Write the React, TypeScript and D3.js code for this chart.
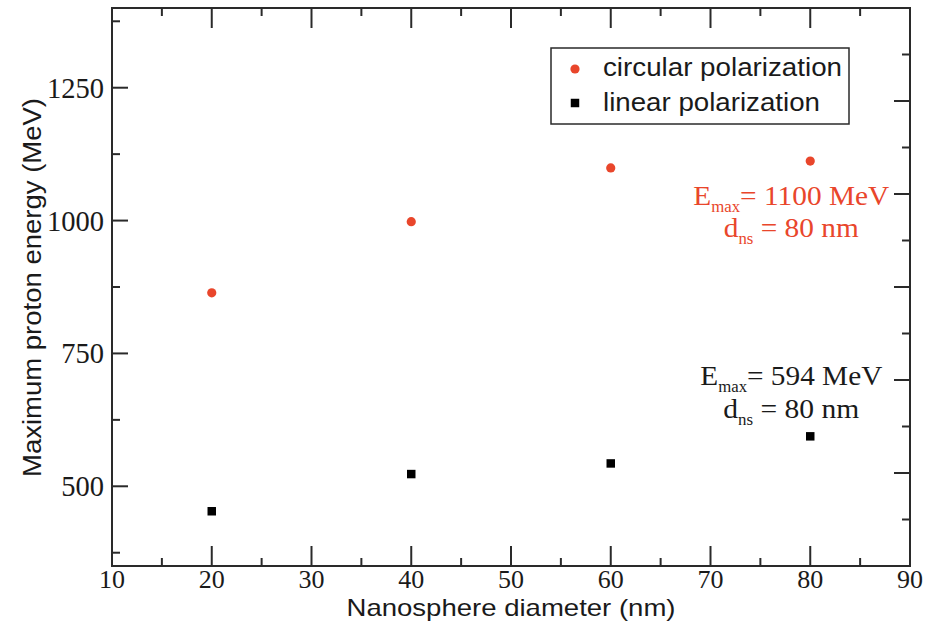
import React from "react";
import * as d3 from "d3";

const diameters = [20, 40, 60, 80];
const circularEnergy = [864, 998, 1099, 1112];
const linearEnergy = [453, 523, 543, 594];
const xMajorTicks = [10, 20, 30, 40, 50, 60, 70, 80, 90];
const xMinorTicks = [15, 25, 35, 45, 55, 65, 75, 85];
const yMajorTicks = [500, 750, 1000, 1250];
const yMinorTicks = [375, 625, 875, 1125, 1375];
const rightMajorTicks = [1, 2, 3, 4, 5];
const rightMinorTicks = [0.5, 1.5, 2.5, 3.5, 4.5, 5.5];
const legendLabels = ["circular polarization", "linear polarization"];

const W = 929, H = 632;
const L = 112, R = 910, T = 8, B = 566;
const RED = "#e9462b";
const INK = "#1a1a1a";
const SERIF = "'Liberation Serif', 'Times New Roman', serif";
const SANS = "'Liberation Sans', Arial, sans-serif";

export default function App() {
  const x = d3.scaleLinear().domain([10, 90]).range([L, R]);
  const y = d3.scaleLinear().domain([350, 1400]).range([B, T]);
  const yr = d3.scaleLinear().domain([0, 6]).range([B, T]);
  const sym = d3.symbol().type(d3.symbolSquare).size(72)();
  const sw = 2;

  const annots = [
    { color: RED, cx: 78.1, y1: 1030, y2: 970, val: "1100", w1: 196, w2: 135 },
    { color: INK, cx: 78.1, y1: 691, y2: 629, val: "594", w1: 182, w2: 136 },
  ];

  return (
    <svg width={W} height={H} style={{ position: "absolute", left: 0, top: 0, background: "#fff" }}>
      <rect x={0} y={0} width={W} height={H} fill="#fff" />
      <rect x={L} y={T} width={R - L} height={B - T} fill="none" stroke="#2a2a2a" strokeWidth={sw} />
      {xMajorTicks.map((t) => (
        <g key={"xm" + t} stroke="#2a2a2a" strokeWidth={sw}>
          <line x1={x(t)} x2={x(t)} y1={B} y2={B - 20} />
          <line x1={x(t)} x2={x(t)} y1={T} y2={T + 20} />
        </g>
      ))}
      {xMinorTicks.map((t) => (
        <g key={"xn" + t} stroke="#2a2a2a" strokeWidth={sw}>
          <line x1={x(t)} x2={x(t)} y1={B} y2={B - 8} />
          <line x1={x(t)} x2={x(t)} y1={T} y2={T + 8} />
        </g>
      ))}
      {yMajorTicks.map((t) => (
        <line key={"ym" + t} x1={L} x2={L + 16} y1={y(t)} y2={y(t)} stroke="#2a2a2a" strokeWidth={sw} />
      ))}
      {yMinorTicks.map((t) => (
        <line key={"yn" + t} x1={L} x2={L + 8} y1={y(t)} y2={y(t)} stroke="#2a2a2a" strokeWidth={sw} />
      ))}
      {rightMajorTicks.map((t) => (
        <line key={"rm" + t} x1={R} x2={R - 16} y1={yr(t)} y2={yr(t)} stroke="#2a2a2a" strokeWidth={sw} />
      ))}
      {rightMinorTicks.map((t) => (
        <line key={"rn" + t} x1={R} x2={R - 8} y1={yr(t)} y2={yr(t)} stroke="#2a2a2a" strokeWidth={sw} />
      ))}
      {xMajorTicks.map((t) => (
        <text key={"xl" + t} x={x(t)} y={588} textAnchor="middle" fontFamily={SERIF} fontSize={26} fill={INK}>
          {t}
        </text>
      ))}
      {yMajorTicks.map((t) => (
        <text key={"yl" + t} x={L - 8} y={y(t) + 10} textAnchor="end" fontFamily={SERIF} fontSize={28.5} fill={INK}>
          {t}
        </text>
      ))}
      <text x={(L + R) / 2} y={616} textAnchor="middle" fontFamily={SANS} fontSize={24} fill={INK}
        textLength={329} lengthAdjust="spacingAndGlyphs">
        Nanosphere diameter (nm)
      </text>
      <text transform={`translate(41,287.5) rotate(-90)`} textAnchor="middle" fontFamily={SANS} fontSize={26} fill={INK}
        textLength={379} lengthAdjust="spacingAndGlyphs">
        Maximum proton energy (MeV)
      </text>
      {diameters.map((d, i) => (
        <circle key={"c" + d} cx={x(d)} cy={y(circularEnergy[i])} r={4.6} fill={RED} />
      ))}
      {diameters.map((d, i) => (
        <path key={"s" + d} d={sym} transform={`translate(${x(d)},${y(linearEnergy[i])})`} fill="#000" />
      ))}
      <rect x={551} y={48} width={298} height={76} fill="#fff" stroke="#2a2a2a" strokeWidth={1.5} />
      <circle cx={575} cy={69} r={4.6} fill={RED} />
      <path d={sym} transform="translate(575,103)" fill="#000" />
      <text x={603} y={76} fontFamily={SANS} fontSize={25} fill={INK} textLength={239} lengthAdjust="spacingAndGlyphs">
        {legendLabels[0]}
      </text>
      <text x={603} y={111} fontFamily={SANS} fontSize={25} fill={INK} textLength={217} lengthAdjust="spacingAndGlyphs">
        {legendLabels[1]}
      </text>
      {annots.map((a, i) => (
        <g key={"a" + i} fill={a.color} fontFamily={SERIF}>
          <text x={x(a.cx)} y={y(a.y1)} textAnchor="middle" fontSize={28} textLength={a.w1} lengthAdjust="spacingAndGlyphs">
            E<tspan fontSize={16} dy={7}>max</tspan><tspan dy={-7}>= {a.val} MeV</tspan>
          </text>
          <text x={x(a.cx)} y={y(a.y2)} textAnchor="middle" fontSize={28} textLength={a.w2} lengthAdjust="spacingAndGlyphs">
            d<tspan fontSize={16} dy={7}>ns</tspan><tspan dy={-7}> = 80 nm</tspan>
          </text>
        </g>
      ))}
    </svg>
  );
}
